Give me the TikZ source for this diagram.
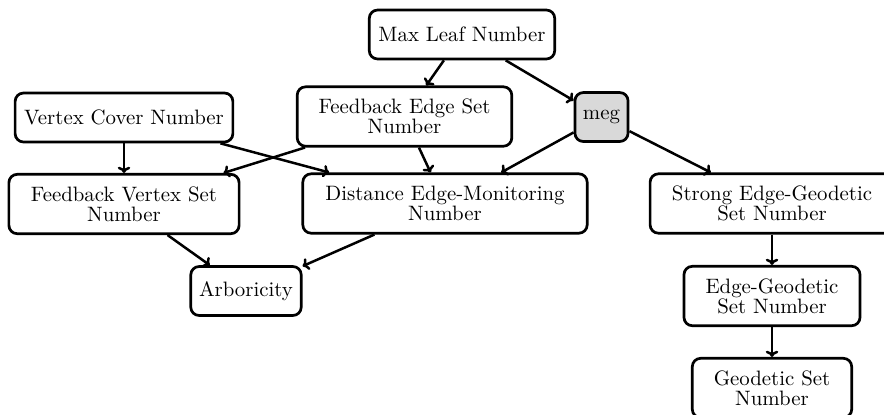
\documentclass[tikz,border=0pt]{standalone}
\usetikzlibrary{arrows.meta}
\begin{document}
\begin{tikzpicture}[x=0.48pt,y=-0.48pt,
  box/.style={draw, line width=1.3pt, rounded corners=4pt, fill=white, align=center,
    font=\fontsize{10}{9.6}\selectfont, inner sep=2pt},
  one/.style={box, minimum height=23.5pt},
  two/.style={box, minimum height=28.5pt},
  gbox/.style={one, fill=black!15},
  arr/.style={-{To[length=3pt,width=6pt]}, line width=1.2pt}]
\useasboundingbox (0,0) rectangle (884,414);
\node[one, minimum width=89pt] (ml) at (462,34.5) {Max Leaf Number};
\node[two, minimum width=103pt] (fes) at (404.5,116.5) {Feedback Edge Set\\Number};
\node[gbox, minimum width=25.5pt] (meg) at (601.5,117) {meg};
\node[one, minimum width=104.5pt] (vc) at (124,117.5) {Vertex Cover Number};
\node[two, minimum width=110.5pt] (fvs) at (124,204) {Feedback Vertex Set\\Number};
\node[two, minimum width=136.5pt] (dem) at (445,203.5) {Distance Edge-Monitoring\\Number};
\node[one, minimum width=53pt] (arb) at (246,291) {Arboricity};
\node[two, minimum width=117pt] (seg) at (772,203.5) {Strong Edge-Geodetic\\Set Number};
\node[two, minimum width=84.5pt] (eg) at (772,296) {Edge-Geodetic\\Set Number};
\node[two, minimum width=76.5pt] (gs) at (772,388) {Geodetic Set\\Number};
\draw[arr] (ml) -- (fes);
\draw[arr] (ml) -- (meg);
\draw[arr] (vc) -- (fvs);
\draw[arr] (vc) -- (dem);
\draw[arr] (fes) -- (fvs);
\draw[arr] (fes) -- (dem);
\draw[arr] (meg) -- (dem);
\draw[arr] (meg) -- (seg);
\draw[arr] (fvs) -- (arb);
\draw[arr] (dem) -- (arb);
\draw[arr] (seg) -- (eg);
\draw[arr] (eg) -- (gs);
\end{tikzpicture}
\end{document}
